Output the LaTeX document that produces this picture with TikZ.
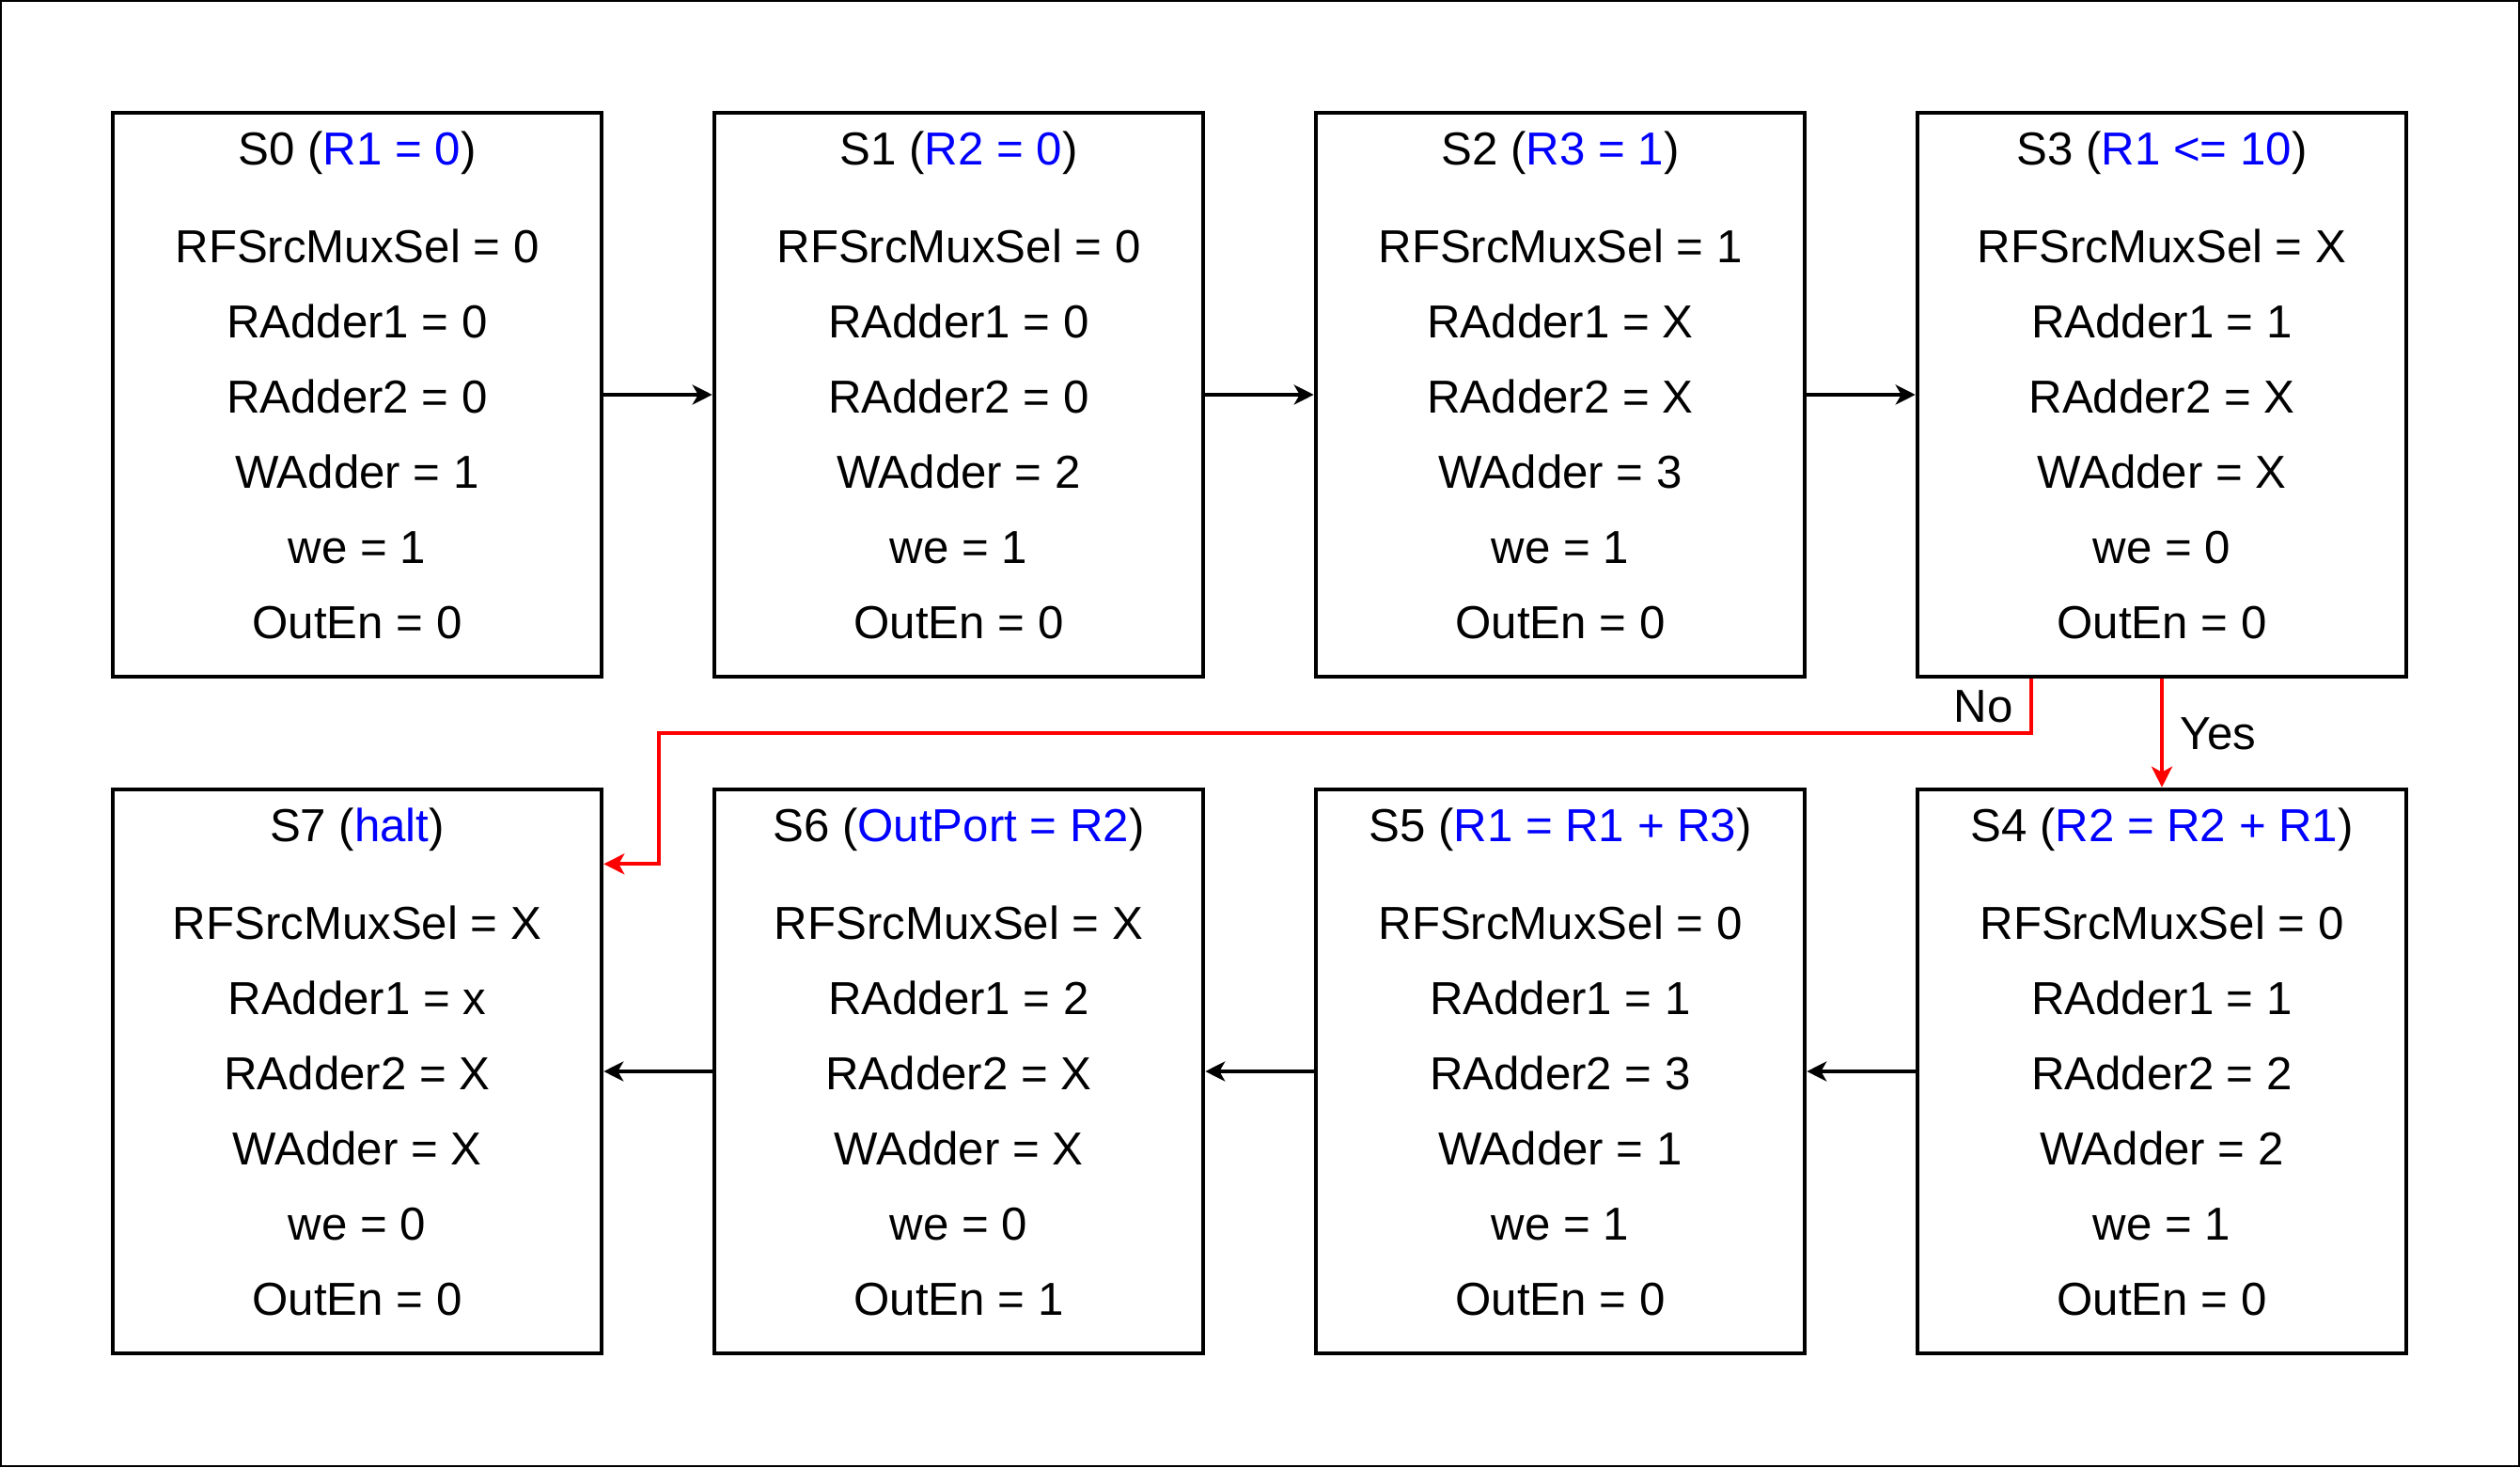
\documentclass[tikz,border=0pt]{standalone}
\usepackage{fontspec}
\setmainfont{Liberation Sans}
\usetikzlibrary{arrows.meta}

\begin{document}
\begin{tikzpicture}[font=\fontsize{14pt}{22.76pt}\selectfont,
  statebox/.style={draw=black,line width=1.3pt,minimum width=5.2cm,minimum height=6cm,inner sep=0pt},
  statetext/.style={align=center,inner sep=0pt,anchor=north},
  blackarrow/.style={-{Stealth[length=0.21cm,width=0.21cm,inset=0.06cm]},line width=1.15pt},
  redarrow/.style={-{Stealth[length=0.22cm,width=0.22cm,inset=0.06cm]},line width=1.15pt,draw=red}]

%FRAME
\useasboundingbox (0,0) rectangle (26.81,15.61);
\draw[line width=0.6pt] (0.01,0.01) rectangle (26.80,15.60);
%FRAME

\node[statebox](s0) at (3.8,11.41) {};
\node[statebox](s1) at (10.2,11.41) {};
\node[statebox](s2) at (16.6,11.41) {};
\node[statebox](s3) at (23.0,11.41) {};
\node[statebox](s7) at (3.8,4.21) {};
\node[statebox](s6) at (10.2,4.21) {};
\node[statebox](s5) at (16.6,4.21) {};
\node[statebox](s4) at (23.0,4.21) {};

\node[statetext](s0txt) at ([yshift=-0.21cm]s0.north) {S0 (\textcolor{blue}{R1 = 0})\\[7pt] RFSrcMuxSel = 0\\ RAdder1 = 0\\ RAdder2 = 0\\ WAdder = 1\\ we = 1\\ OutEn = 0};
\node[statetext](s1txt) at ([yshift=-0.21cm]s1.north) {S1 (\textcolor{blue}{R2 = 0})\\[7pt] RFSrcMuxSel = 0\\ RAdder1 = 0\\ RAdder2 = 0\\ WAdder = 2\\ we = 1\\ OutEn = 0};
\node[statetext](s2txt) at ([yshift=-0.21cm]s2.north) {S2 (\textcolor{blue}{R3 = 1})\\[7pt] RFSrcMuxSel = 1\\ RAdder1 = X\\ RAdder2 = X\\ WAdder = 3\\ we = 1\\ OutEn = 0};
\node[statetext](s3txt) at ([yshift=-0.21cm]s3.north) {S3 (\textcolor{blue}{R1 <= 10})\\[7pt] RFSrcMuxSel = X\\ RAdder1 = 1\\ RAdder2 = X\\ WAdder = X\\ we = 0\\ OutEn = 0};
\node[statetext](s4txt) at ([yshift=-0.21cm]s4.north) {S4 (\textcolor{blue}{R2 = R2 + R1})\\[7pt] RFSrcMuxSel = 0\\ RAdder1 = 1\\ RAdder2 = 2\\ WAdder = 2\\ we = 1\\ OutEn = 0};
\node[statetext](s5txt) at ([yshift=-0.21cm]s5.north) {S5 (\textcolor{blue}{R1 = R1 + R3})\\[7pt] RFSrcMuxSel = 0\\ RAdder1 = 1\\ RAdder2 = 3\\ WAdder = 1\\ we = 1\\ OutEn = 0};
\node[statetext](s6txt) at ([yshift=-0.21cm]s6.north) {S6 (\textcolor{blue}{OutPort = R2})\\[7pt] RFSrcMuxSel = X\\ RAdder1 = 2\\ RAdder2 = X\\ WAdder = X\\ we = 0\\ OutEn = 1};
\node[statetext](s7txt) at ([yshift=-0.21cm]s7.north) {S7 (\textcolor{blue}{halt})\\[7pt] RFSrcMuxSel = X\\ RAdder1 = x\\ RAdder2 = X\\ WAdder = X\\ we = 0\\ OutEn = 0};

\draw[blackarrow] (s0) -- (s1);
\draw[blackarrow] (s1) -- (s2);
\draw[blackarrow] (s2) -- (s3);

\draw[blackarrow] (s4) -- (s5);
\draw[blackarrow] (s5) -- (s6);
\draw[blackarrow] (s6) -- (s7);

\coordinate (nobend) at (7.01,7.81);
\draw[redarrow] (s3) -- (s4);
\draw[redarrow] ([xshift=-1.39cm]s3.south) |- (nobend) |- ([yshift=-0.816cm]s7.north east);

\node[](yes) at (23.6,7.8) {Yes};
\node[](no) at (21.1,8.09) {No};

\end{tikzpicture}
\end{document}
